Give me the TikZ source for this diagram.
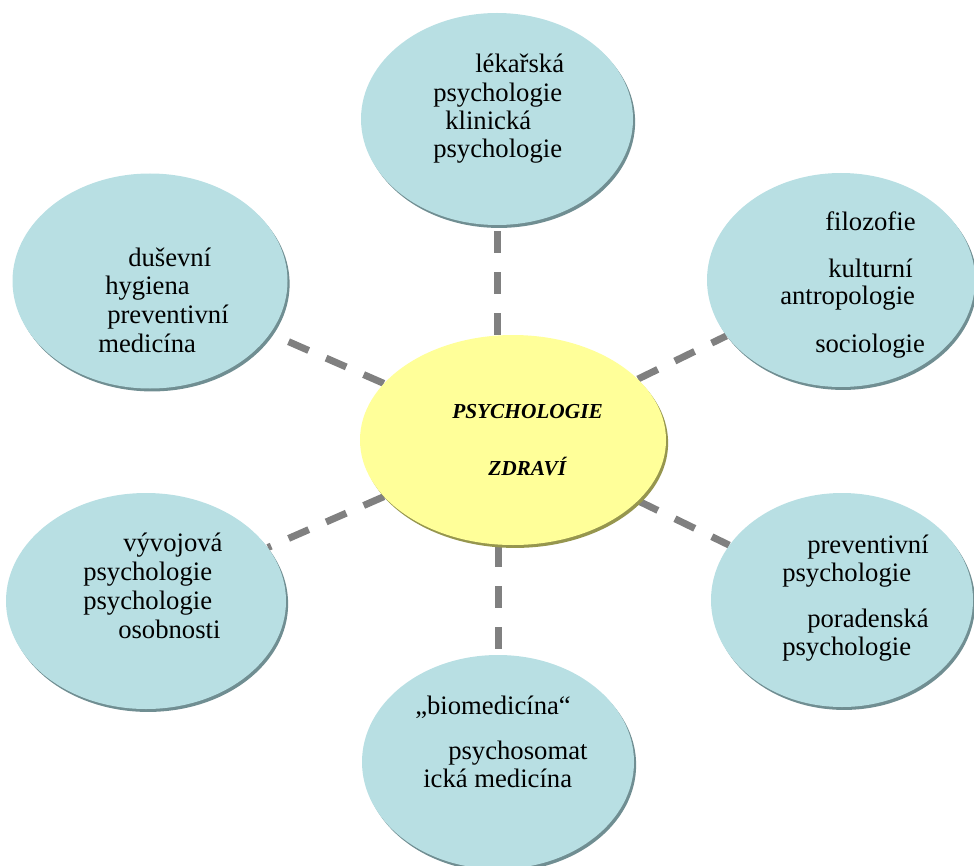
\documentclass[tikz,border=0pt]{standalone}
\usepackage{fontspec}
\setmainfont{Liberation Serif}
\usetikzlibrary{shapes.geometric,shadows}
\pgfdeclarelayer{bg}
\pgfsetlayers{bg,main}
\definecolor{bubble}{RGB}{184,223,227}
\definecolor{bubblerim}{RGB}{112,142,146}
\definecolor{core}{RGB}{255,255,153}
\definecolor{corerim}{RGB}{150,150,78}
\definecolor{linkgray}{RGB}{128,128,128}
\tikzset{
  bubblenode/.style={ellipse,inner sep=0pt,fill=bubble,
    drop shadow={shadow xshift=1.6pt,shadow yshift=-2.2pt,fill=bubblerim,opacity=1}},
  corenode/.style={ellipse,inner sep=0pt,fill=core,
    minimum width={306*0.75pt},minimum height={210*0.75pt},
    drop shadow={shadow xshift=1.6pt,shadow yshift=-2.2pt,fill=corerim,opacity=1}},
  txt/.style={anchor=base west,inner sep=0pt,font=\fontsize{20pt}{24pt}\selectfont},
  coretxt/.style={anchor=base west,inner sep=0pt,font=\fontsize{16pt}{19pt}\selectfont\bfseries\itshape},
  link/.style={draw=linkgray,line width={7*0.75pt},dash pattern=on {22*0.75pt} off {19*0.75pt}}
}
\begin{document}
\begin{tikzpicture}[x=0.75pt,y=-0.75pt]
\useasboundingbox (0,0) rectangle (974,866);

% central topic
\node[corenode] (C) at (513,440) {};

% surrounding fields
\node[bubblenode,minimum width={272*0.75pt},minimum height={212*0.75pt}] (T) at (497,119) {};
\node[bubblenode,minimum width={275*0.75pt},minimum height={215*0.75pt}] (LT) at (150,281) {};
\node[bubblenode,minimum width={268*0.75pt},minimum height={214*0.75pt}] (RT) at (841,280) {};
\node[bubblenode,minimum width={280*0.75pt},minimum height={216*0.75pt}] (LB) at (146,601) {};
\node[bubblenode,minimum width={262*0.75pt},minimum height={214*0.75pt}] (RB) at (842,600) {};
\node[bubblenode,minimum width={272*0.75pt},minimum height={214*0.75pt}] (B) at (498,762) {};

% dashed connectors behind the bubbles
\begin{pgfonlayer}{bg}
\draw[link] (T.south |- C.north) -- (T.south);
\draw[link] (C) -- (LT);
\draw[link] (C) -- (RT);
\draw[link] (C) -- (LB);
\draw[link] (C) -- (RB);
\draw[link] (B.north |- C.south) -- (B.north);
\end{pgfonlayer}

% labels
\node[coretxt] (c1) at (452,418) {PSYCHOLOGIE};
\node[coretxt] (c2) at (488,475) {ZDRAVÍ};

\node[txt] (t1) at (475,73) {lékařská};
\node[txt] (t2) at (433,102) {psychologie};
\node[txt] (t3) at (445,130) {klinická};
\node[txt] (t4) at (433,158) {psychologie};

\node[txt] (lt1) at (128,267) {duševní};
\node[txt] (lt2) at (105,295) {hygiena};
\node[txt] (lt3) at (107,323) {preventivní};
\node[txt] (lt4) at (98,352) {medicína};

\node[txt] (rt1) at (825,231) {filozofie};
\node[txt] (rt2) at (828,277) {kulturní};
\node[txt] (rt3) at (780,305) {antropologie};
\node[txt] (rt4) at (815,352) {sociologie};

\node[txt] (lb1) at (123,551) {vývojová};
\node[txt] (lb2) at (83,580) {psychologie};
\node[txt] (lb3) at (83,609) {psychologie};
\node[txt] (lb4) at (118,638) {osobnosti};

\node[txt] (rb1) at (807,553) {preventivní};
\node[txt] (rb2) at (782,581) {psychologie};
\node[txt] (rb3) at (807,627) {poradenská};
\node[txt] (rb4) at (782,655) {psychologie};

\node[txt] (b1) at (415,714) {„biomedicína“};
\node[txt] (b2) at (448,759) {psychosomat};
\node[txt] (b3) at (423,787) {ická medicína};
\end{tikzpicture}
\end{document}
